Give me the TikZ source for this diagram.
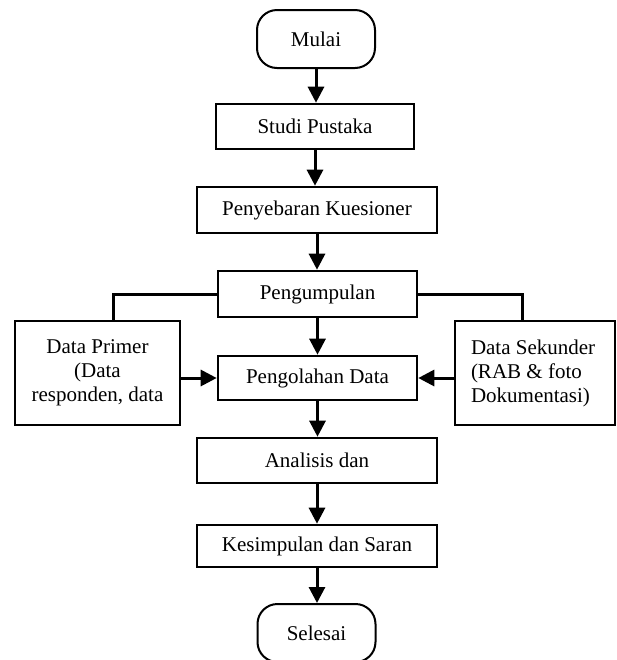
\documentclass[tikz,border=0pt]{standalone}
\usepackage{fontspec}
\setmainfont{Liberation Serif}
\usetikzlibrary{arrows.meta}
\begin{document}
\begin{tikzpicture}[x=0.5pt, y=-0.5pt, font=\fontsize{10.5}{12}\selectfont, >={Triangle[length=8pt,width=8pt]},
  kotak/.style={draw, line width=1.3pt, inner sep=0pt, minimum height=22.5pt},
  ujung/.style={draw, line width=1pt, rounded corners=10pt, minimum width=59pt, minimum height=29pt, inner sep=0pt},
  sisi/.style={draw, line width=1.3pt, inner sep=0pt, minimum height=52pt},
  garis/.style={line width=1.5pt},
  panah/.style={->, line width=1.5pt}]
	\useasboundingbox (0,0) rectangle (617,660);
	% alur utama
	\node[ujung] (mulai) at (316,39) {Mulai};
	\node[kotak, minimum width=99pt] (studi) at (315,126.5) {Studi Pustaka};
	\node[kotak, minimum width=120pt, minimum height=23pt] (sebar) at (317,210) {Penyebaran Kuesioner};
	\node[kotak, minimum width=99.5pt, minimum height=23pt] (kumpul) at (317.5,294) {Pengumpulan};
	\node[kotak, minimum width=99.5pt, minimum height=22pt] (olah) at (317.5,378) {Pengolahan Data};
	\node[kotak, minimum width=120pt] (analisis) at (317,460.5) {Analisis dan};
	\node[kotak, minimum width=120pt, minimum height=21pt] (simpul) at (317,546) {Kesimpulan dan Saran};
	\node[ujung] (selesai) at (316.5,633) {Selesai};
	% data samping
	\node[sisi, minimum width=82.5pt, align=center] (primer) at (97.5,373) {Data Primer\\(Data\\responden, data};
	\node[sisi, minimum width=80pt, text width=64pt, align=flush left] (sekunder) at (535,373) {Data Sekunder\\(RAB \& foto\\Dokumentasi)};
	% panah
	\draw[panah] (mulai) -- (mulai |- studi.north);
	\draw[panah] (studi) -- (studi |- sebar.north);
	\draw[panah] (sebar) -- (sebar |- kumpul.north);
	\draw[panah] (kumpul) -- (kumpul |- olah.north);
	\draw[panah] (olah) -- (olah |- analisis.north);
	\draw[panah] (analisis) -- (analisis |- simpul.north);
	\draw[panah] (simpul) -- (simpul |- selesai.north);
	\draw[garis] (kumpul.west) -| ([xshift=8pt]primer.north);
	\draw[garis] (kumpul.east) -| ([xshift=-6.5pt]sekunder.north);
	\draw[panah] (primer.east |- olah) -- (olah.west);
	\draw[panah] (sekunder.west |- olah) -- (olah.east);
\end{tikzpicture}
\end{document}
